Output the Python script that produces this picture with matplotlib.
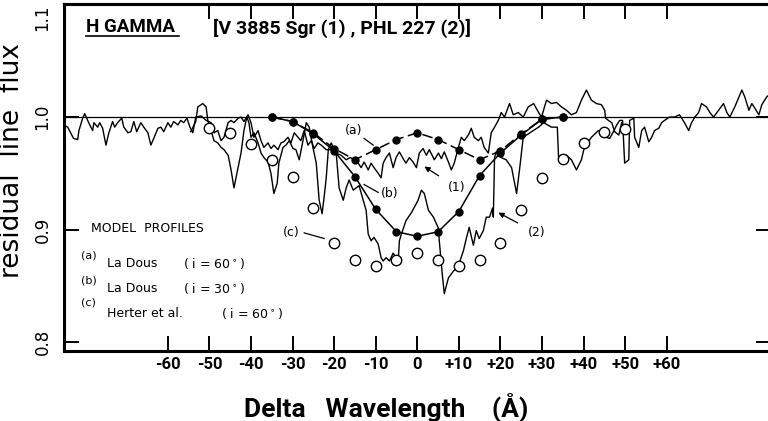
import matplotlib.pyplot as plt

# spectrum (1): V 3885 Sgr
wl1 = [-85.1, -84.1, -83.4, -82.7, -81.7, -81.4, -80.5, -80.0, -79.3, -78.8, -78.1, -77.8,
       -76.9, -76.4, -75.7, -74.9, -74.2, -73.3, -72.8, -72.1, -71.1, -70.6, -69.6, -68.9,
       -68.2, -67.5, -66.5, -65.8, -64.8, -64.1, -63.4, -62.4, -61.7, -61.0, -60.0, -59.3,
       -58.6, -57.6, -56.9, -56.2, -55.4, -54.7, -54.0, -53.3, -52.0, -50.8, -49.6, -48.9,
       -48.0, -47.2, -46.5, -45.5, -44.8, -44.1, -43.1, -42.4, -41.7, -40.7, -40.0, -39.3,
       -38.3, -37.6, -36.9, -35.9, -35.2, -34.5, -33.5, -32.8, -32.1, -31.1, -30.4, -29.6,
       -28.7, -28.0, -27.2, -26.3, -25.5, -24.8, -23.9, -23.1, -21.9, -20.7, -19.5, -18.3,
       -17.1, -16.1, -15.2, -14.2, -13.5, -12.8, -11.8, -11.1, -10.4, -9.4, -8.7, -8.2,
       -7.5, -6.7, -5.8, -5.1, -4.3, -3.4, -2.7, -1.9, -1.0, -0.2, 0.5, 1.4,
       2.2, 2.9, 4.1, 5.1, 5.8, 6.5, 7.5, 8.2, 8.9, 9.9, 10.6, 11.3,
       12.3, 13.0, 13.7, 14.7, 15.4, 16.1, 17.1, 17.8, 18.6, 19.5, 20.2, 21.0,
       21.9, 22.2, 23.1, 24.3, 25.5, 26.7, 28.0, 29.2, 29.9, 31.1, 32.3, 33.5,
       34.7, 35.9, 37.1, 38.3, 39.5, 40.7, 41.9, 43.1, 44.3, 45.1, 45.3, 46.0,
       46.8, 47.5, 48.5, 49.2]
flux1 = [0.993, 0.991, 0.986, 0.981, 0.980, 0.988, 0.999, 1.003, 0.997, 0.993, 0.988, 0.995,
         0.991, 0.995, 0.990, 0.975, 0.986, 0.996, 0.991, 0.995, 0.999, 0.991, 0.986, 0.987,
         0.996, 0.987, 0.995, 0.991, 0.986, 0.975, 0.981, 0.990, 0.991, 0.987, 0.995, 0.991,
         0.996, 0.993, 0.997, 0.995, 0.999, 0.991, 0.986, 1.000, 1.001, 0.997, 0.995, 0.986,
         0.988, 0.979, 0.982, 0.995, 0.997, 0.995, 0.999, 1.000, 0.996, 1.002, 0.995, 0.982,
         0.988, 0.979, 0.973, 0.977, 0.972, 0.975, 0.971, 0.977, 0.978, 0.982, 0.977, 0.986,
         0.982, 0.979, 0.988, 0.975, 0.979, 0.972, 0.977, 0.975, 0.971, 0.971, 0.968, 0.966,
         0.962, 0.964, 0.962, 0.959, 0.955, 0.960, 0.953, 0.959, 0.955, 0.950, 0.946, 0.959,
         0.964, 0.968, 0.955, 0.964, 0.969, 0.963, 0.959, 0.964, 0.960, 0.955, 0.968, 0.972,
         0.966, 0.971, 0.962, 0.968, 0.963, 0.969, 0.960, 0.953, 0.959, 0.973, 0.982, 0.979,
         0.984, 0.990, 0.982, 0.979, 0.982, 0.973, 0.968, 0.986, 0.991, 0.997, 1.004, 1.000,
         1.009, 1.012, 1.002, 1.004, 1.000, 1.009, 1.012, 1.004, 1.000, 1.015, 1.012, 1.013,
         1.009, 1.006, 1.002, 1.004, 1.015, 1.024, 1.015, 1.012, 1.011, 1.006, 0.999, 0.997,
         0.995, 0.987, 0.984, 0.995]

# spectrum (2): PHL 227
wl2 = [-54.5, -53.3, -52.8, -51.6, -50.8, -50.4, -49.6, -48.9, -48.0, -47.2, -46.5, -45.5,
       -44.8, -44.1, -43.1, -42.4, -41.7, -41.0, -40.5, -40.0, -39.3, -38.3, -37.6, -36.9,
       -35.9, -35.2, -34.5, -33.7, -33.3, -32.3, -31.6, -30.8, -29.9, -29.2, -28.4, -27.5,
       -26.7, -26.0, -25.1, -24.3, -23.6, -22.9, -22.4, -21.9, -21.4, -20.7, -19.5, -18.8,
       -17.8, -17.1, -16.4, -15.4, -14.7, -14.0, -13.0, -12.3, -11.8, -11.1, -10.4, -9.4,
       -8.7, -8.2, -7.5, -6.7, -5.8, -5.1, -4.6, -4.3, -3.9, -2.7, -1.4, 0.2,
       1.0, 1.7, 2.7, 3.9, 5.1, 5.3, 6.0, 6.5, 7.5, 8.7, 9.9, 11.1,
       11.8, 12.5, 13.5, 14.2, 14.9, 15.9, 16.6, 17.4, 18.1, 18.3, 18.6, 19.0,
       20.2, 21.4, 22.7, 23.9, 24.6, 25.5, 27.5, 29.2, 30.4, 32.3, 33.7, 34.0,
       35.2, 35.9, 37.1, 38.3, 39.5, 40.2, 41.9, 43.6, 44.3, 44.8, 45.5, 46.3,
       47.2, 48.0, 48.7, 49.4, 49.9, 50.9, 51.1, 52.1, 52.3, 53.3, 54.0, 54.7,
       55.7, 56.4, 57.1, 58.1, 58.8, 59.5, 60.7, 61.9, 63.1, 64.3, 65.3, 66.0,
       66.8, 67.7, 68.4, 69.6, 70.4, 71.3, 72.5, 73.7, 74.5, 75.2, 76.4, 78.1,
       78.8, 79.8, 80.5, 81.2, 82.2, 82.9, 84.1, 84.8]
flux2 = [0.987, 0.996, 1.009, 1.012, 1.009, 0.997, 0.988, 0.979, 0.977, 0.973, 0.971, 0.966,
         0.953, 0.937, 0.955, 0.968, 0.988, 1.000, 0.995, 0.982, 0.986, 0.977, 0.968, 0.964,
         0.960, 0.950, 0.932, 0.941, 0.959, 0.973, 0.975, 0.979, 0.972, 0.971, 0.962, 0.979,
         0.995, 0.991, 0.973, 0.959, 0.926, 0.914, 0.929, 0.946, 0.971, 0.977, 0.968, 0.937,
         0.926, 0.937, 0.944, 0.935, 0.937, 0.939, 0.926, 0.917, 0.896, 0.890, 0.893, 0.887,
         0.875, 0.872, 0.875, 0.872, 0.879, 0.875, 0.870, 0.890, 0.895, 0.908, 0.915, 0.926,
         0.935, 0.932, 0.917, 0.911, 0.901, 0.890, 0.861, 0.843, 0.857, 0.863, 0.868, 0.881,
         0.892, 0.902, 0.886, 0.899, 0.892, 0.899, 0.911, 0.911, 0.919, 0.911, 0.964, 0.969,
         0.964, 0.962, 0.955, 0.932, 0.953, 0.982, 0.987, 0.991, 0.995, 0.991, 0.991, 0.964,
         0.963, 0.966, 0.962, 0.953, 0.962, 0.973, 0.982, 0.988, 0.986, 0.986, 0.982, 0.981,
         0.987, 0.993, 0.997, 0.997, 0.959, 0.962, 0.997, 0.999, 0.982, 0.973, 0.988, 0.991,
         0.978, 0.982, 0.988, 0.990, 0.995, 0.997, 1.000, 1.000, 1.002, 0.995, 0.988, 0.995,
         1.000, 1.004, 1.012, 1.009, 1.004, 1.000, 1.006, 1.012, 1.004, 1.000, 1.009, 1.024,
         1.018, 1.006, 1.012, 1.008, 1.002, 1.011, 1.018, 1.020]

# model profiles
wl_model = [-35, -30, -25, -20, -15, -10, -5, 0, 5, 10, 15, 20, 25, 30, 35]
model_a = [1.000, 0.996, 0.986, 0.972, 0.962, 0.971, 0.980, 0.986, 0.980, 0.971, 0.962, 0.970, 0.985, 0.998, 1.000]
model_b = [1.000, 0.996, 0.985, 0.970, 0.947, 0.918, 0.898, 0.894, 0.898, 0.916, 0.948, 0.968, 0.984, 0.998, 1.000]
wl_c = [-50, -45, -40, -35, -30, -25, -20, -15, -10, -5, 0, 5, 10, 15, 20, 25, 30, 35, 40, 45, 50]
model_c = [0.990, 0.986, 0.976, 0.962, 0.947, 0.919, 0.888, 0.873, 0.868, 0.873, 0.879,
           0.873, 0.868, 0.873, 0.888, 0.917, 0.946, 0.963, 0.977, 0.987, 0.989]

xticks = [-60, -50, -40, -30, -20, -10, 0, 10, 20, 30, 40, 50, 60]
xticklabels = ['-60', '-50', '-40', '-30', '-20', '-10', '0', '+10', '+20', '+30', '+40', '+50', '+60']
yticks = [0.8, 0.9, 1.0, 1.1]
yticklabels = ['0.8', '0.9', '1.0', '1.1']

narrow = ['Roboto', 'DejaVu Sans']

fig = plt.figure(figsize=(7.68, 4.21), dpi=100)
ax = fig.add_axes([0.0833, 0.1663, 0.92, 0.8242])
ax.set_xlim(-85, 85)
ax.set_ylim(0.792, 1.1005)

ax.axhline(1.0, color='black', linewidth=0.9)
ax.plot(wl1, flux1, color='black', linewidth=1.0)
ax.plot(wl2, flux2, color='black', linewidth=1.0)
ax.plot(wl_model, model_a, color='black', linewidth=1.1, linestyle=(0, (7, 3)),
        marker='o', markersize=5)
ax.plot(wl_model, model_b, color='black', linewidth=1.1, marker='o', markersize=5)
ax.plot(wl_c, model_c, linestyle='none', marker='o', markersize=7.5,
        markerfacecolor='white', markeredgecolor='black', markeredgewidth=1.0)

# frame and ticks
for side in ['left', 'bottom', 'top']:
    ax.spines[side].set_linewidth(2.2)
ax.spines['right'].set_visible(False)
ax.set_xticks(xticks)
ax.set_xticklabels(xticklabels, fontsize=12, fontweight='bold', family=narrow)
ax.set_yticks(yticks)
ax.set_yticklabels(yticklabels, fontsize=12, rotation=90, va='center')
ax.get_yticklabels()[-1].set_va('top')
ax.get_yticklabels()[-1].set_y(1.093)
ax.tick_params(axis='x', direction='in', length=11, width=1.4, pad=4, top=False)
ax.tick_params(axis='y', direction='in', length=11, width=1.4, pad=9, right=True)

top = ax.secondary_xaxis('top')
top.set_xticks(xticks[1:])
top.set_xticklabels([])
top.tick_params(direction='in', length=11, width=1.4)
top.spines['top'].set_linewidth(2.2)

ax.set_xlabel('Delta   Wavelength    (Å)', fontsize=19, fontweight='bold', family=narrow, va='center')
ax.xaxis.set_label_coords(0.456, -0.161)
ax.set_ylabel('residual  line  flux', fontsize=19)
ax.yaxis.set_label_coords(-0.055, 0.55)

# header
ax.text(-79.8, 1.080, 'H GAMMA', fontsize=13.5, fontweight='bold', family=narrow, va='center')
ax.plot([-79.8, -57.3], [1.072, 1.072], color='black', linewidth=1.2)
ax.text(-49.2, 1.079, '[V 3885 Sgr (1) , PHL 227 (2)]', fontsize=14, fontweight='bold',
        family=narrow, va='center')

# model legend
ax.text(-78.6, 0.901, 'MODEL  PROFILES', fontsize=9, va='center')
rows = [('(a)', 'La Dous', '( i = 60$^\\circ$)', 0.877, -56.4, 0.007),
        ('(b)', 'La Dous', '( i = 30$^\\circ$)', 0.855, -56.4, 0.007),
        ('(c)', 'Herter et al.', '( i = 60$^\\circ$)', 0.835, -47.2, 0.010)]
for tag, name, incl, yv, xi, dy in rows:
    ax.text(-81.0, yv, tag, fontsize=8, va='center')
    ax.text(-74.6, yv - dy, name, fontsize=9, va='center')
    ax.text(xi, yv - dy, incl, fontsize=9, va='center')

# curve labels
ax.text(-15.2, 0.988, '(a)', fontsize=9, ha='center', va='center')
ax.plot([-12.8, -10.6], [0.981, 0.975], color='black', linewidth=0.9)
ax.text(-6.7, 0.932, '(b)', fontsize=9, ha='center', va='center')
ax.plot([-12.8, -9.4], [0.940, 0.933], color='black', linewidth=0.9)
ax.text(-30.4, 0.897, '(c)', fontsize=9, ha='center', va='center')
ax.plot([-27.2, -22.4], [0.897, 0.892], color='black', linewidth=0.9)
ax.annotate('(1)', xy=(1.7, 0.956), xytext=(9.6, 0.937), fontsize=9, ha='center', va='center',
            arrowprops=dict(arrowstyle='-|>', color='black', lw=0.9, shrinkA=6, shrinkB=0,
                            mutation_scale=8))
ax.annotate('(2)', xy=(19.5, 0.915), xytext=(28.7, 0.897), fontsize=9, ha='center', va='center',
            arrowprops=dict(arrowstyle='-|>', color='black', lw=0.9, shrinkA=6, shrinkB=0,
                            mutation_scale=8))

fig.savefig('out.png', dpi=100)
